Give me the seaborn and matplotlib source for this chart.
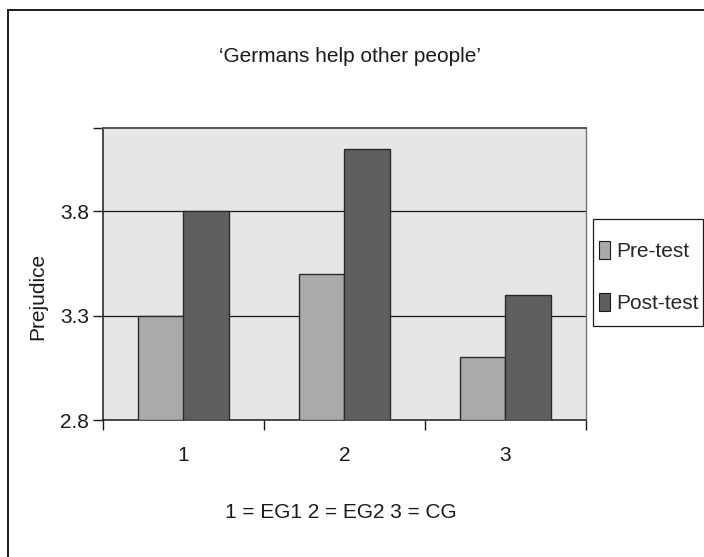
import matplotlib
matplotlib.use("Agg")
import matplotlib.pyplot as plt
from matplotlib.patches import Rectangle
import seaborn as sns
import pandas as pd

# Group labels and mean prejudice scores
groups = ["1", "2", "3"]
pre_test = [3.3, 3.5, 3.1]
post_test = [3.8, 4.1, 3.4]
phases = ["Pre-test", "Post-test"]
y_ticks = [2.8, 3.3, 3.8]

df = pd.DataFrame({
    "group": groups * 2,
    "score": pre_test + post_test,
    "phase": [phases[0]] * len(groups) + [phases[1]] * len(groups),
})

sns.set_theme(style="white")
plt.rcParams["font.family"] = ["Liberation Sans", "DejaVu Sans"]
FS = 15

fig = plt.figure(figsize=(7.04, 5.57), dpi=100)
ax = fig.add_axes([103 / 704, 1 - 420 / 557, 483 / 704, 292 / 557])
ax.set_facecolor("#e6e6e8")

sns.barplot(
    data=df, x="group", y="score", hue="phase",
    palette={"Pre-test": "#aaaaaa", "Post-test": "#5f5f5f"},
    width=0.57, edgecolor="#2a2a2a", linewidth=1.0, ax=ax,
    legend=True, errorbar=None, zorder=3,
)

# Bars grow from the axis floor
for p in ax.patches:
    y0 = 2.8
    h = p.get_y() + p.get_height() - y0
    p.set_y(y0)
    p.set_height(h)

ax.set_ylim(2.8, 4.2)
ax.set_xlim(-0.5, 2.5)

# Horizontal grid lines
for yv in [3.3, 3.8]:
    ax.axhline(yv, color="#1a1a1a", lw=0.9, zorder=1)

ax.set_yticks(y_ticks + [4.2])
ax.set_yticklabels([f"{v:.1f}" for v in y_ticks] + [""], fontsize=FS, color="#1a1a1a")
ax.set_xticks([0, 1, 2])
ax.set_xticklabels(groups, fontsize=FS, color="#1a1a1a")
ax.set_xticks([-0.5, 0.5, 1.5, 2.5], minor=True)
ax.tick_params(axis="x", which="major", length=0, pad=19, bottom=True)
ax.tick_params(axis="x", which="minor", length=7, width=1, color="#1a1a1a",
               direction="out", bottom=True)
ax.tick_params(axis="y", which="major", length=7, width=1, color="#1a1a1a",
               direction="out", pad=3, left=True)

ax.set_xlabel("")
ax.set_ylabel("Prejudice", fontsize=FS, color="#1a1a1a")
ax.yaxis.set_label_coords((47 - 103) / 483, (420 - 296) / 292)

for side in ["left", "bottom"]:
    ax.spines[side].set_color("#1a1a1a")
    ax.spines[side].set_linewidth(1.1)
ax.spines["top"].set_color("#555555")
ax.spines["top"].set_linewidth(1.4)
ax.spines["right"].set_color("#777777")
ax.spines["right"].set_linewidth(1.0)

ax.get_legend().remove()
handles, labels = ax.get_legend_handles_labels()
leg = fig.legend(
    handles, labels, loc="center left",
    bbox_to_anchor=(599 / 704, 1 - 277 / 557),
    fontsize=FS, frameon=False,
    handlelength=0.55, handleheight=0.95, handletextpad=0.3,
    labelspacing=1.5, borderpad=0, borderaxespad=0,
)
for h in leg.legend_handles:
    h.set_edgecolor("#1a1a1a")
    h.set_linewidth(0.8)

# Legend box
fig.patches.append(Rectangle((593 / 704, 1 - 326 / 557), 110 / 704, 107 / 557,
                             transform=fig.transFigure, fill=False,
                             edgecolor="#1a1a1a", lw=0.9))

fig.text(350 / 704, 1 - 57 / 557, "\u2018Germans help other people\u2019",
         ha="center", va="center", fontsize=FS, color="#1a1a1a")
fig.text(341 / 704, 1 - 512 / 557, "1 = EG1 2 = EG2 3 = CG",
         ha="center", va="center", fontsize=FS, color="#1a1a1a")

# Outer frame around the whole chart
fig.patches.append(Rectangle((8 / 704, -0.2), 1.2, 1.2 - 10 / 557,
                             transform=fig.transFigure, fill=False,
                             edgecolor="#1a1a1a", lw=1.4))

fig.savefig("out.png", dpi=100)
